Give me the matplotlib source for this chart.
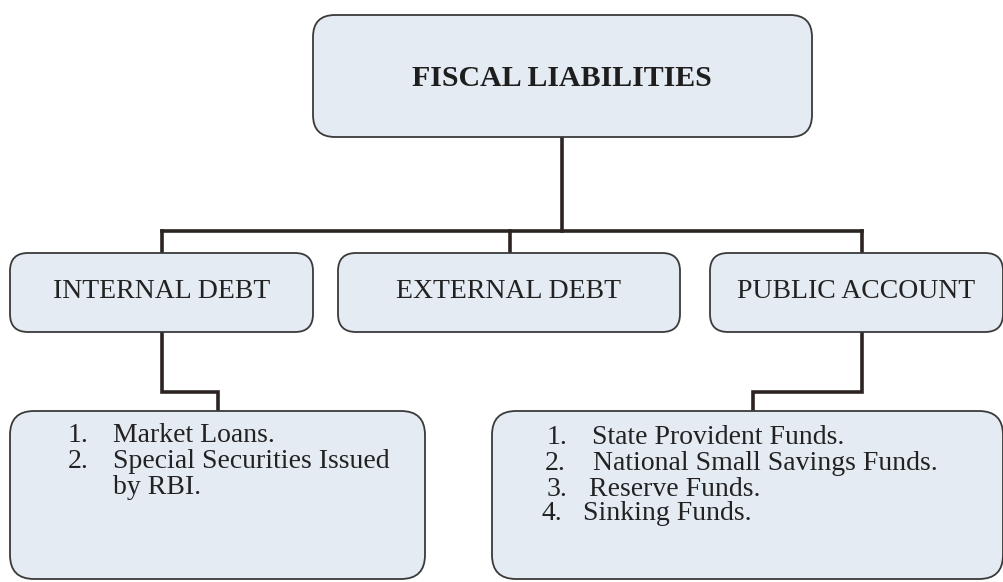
import matplotlib
matplotlib.use("Agg")
from matplotlib import pyplot as plt
from matplotlib.patches import FancyBboxPatch

plt.rcParams['font.family'] = ['Liberation Serif', 'DejaVu Serif']

# chart content
title = "FISCAL LIABILITIES"
branches = ["INTERNAL DEBT", "EXTERNAL DEBT", "PUBLIC ACCOUNT"]
internal_items = ["Market Loans.", "Special Securities Issued", "by RBI."]
internal_nums = ["1.", "2.", ""]
public_items = ["State Provident Funds.", "National Small Savings Funds.",
                "Reserve Funds.", "Sinking Funds."]
public_nums = ["1.", "2.", "3.", "4."]

W, H = 1004, 582
fill = '#e5ebf3'
edge = '#3a3a3a'
wire = '#2b2422'

fig = plt.figure(figsize=(W / 100, H / 100), dpi=100)
ax = fig.add_axes([0, 0, 1, 1])
ax.set_xlim(0, W)
ax.set_ylim(H, 0)
ax.axis('off')


def box(x0, y0, x1, y1, r=18):
    # image coords (y down); patch is drawn on an inverted axis
    p = FancyBboxPatch((x0, y0), x1 - x0, y1 - y0,
                       boxstyle="round,pad=0,rounding_size=%d" % r,
                       facecolor=fill, edgecolor=edge, lw=1.3, zorder=2)
    ax.add_patch(p)


def wire_line(xs, ys):
    ax.plot(xs, ys, color=wire, lw=2.6, solid_capstyle='projecting',
            solid_joinstyle='miter', zorder=1)


# top box
box(313, 15, 812, 137, r=22)
ax.text(562, 79, title, ha='center', va='center', fontsize=21.5,
        fontweight='bold', color='#1e1e1e', zorder=3)

# connectors from top
wire_line([562, 562], [137, 231])
wire_line([162, 862], [231, 231])
drops = [162, 510, 862]
for x in drops:
    wire_line([x, x], [231, 253])

# second row
row2 = [(10, 313), (338, 680), (710, 1003)]
for (x0, x1), lab in zip(row2, branches):
    box(x0, 253, x1, 332)
    ax.text((x0 + x1) / 2, 292, lab, ha='center', va='center',
            fontsize=20, color='#222222', zorder=3)

# lower connectors
wire_line([162, 162, 218, 218], [332, 392, 392, 412])
wire_line([862, 862, 753, 753], [332, 392, 392, 412])

# bottom boxes
box(10, 411, 425, 579, r=24)
box(492, 411, 1003, 579, r=24)

left_y = [435, 461, 487]
for n, t, y in zip(internal_nums, internal_items, left_y):
    ax.text(68, y, n, ha='left', va='center', fontsize=20, color='#222222', zorder=3)
    ax.text(113, y, t, ha='left', va='center', fontsize=20, color='#222222', zorder=3)

right_y = [437, 463, 489, 514]
num_x = [547, 545, 547, 542]
txt_x = [592, 593, 589, 583]
for n, t, y, nx, tx in zip(public_nums, public_items, right_y, num_x, txt_x):
    ax.text(nx, y, n, ha='left', va='center', fontsize=20, color='#222222', zorder=3)
    ax.text(tx, y, t, ha='left', va='center', fontsize=20, color='#222222', zorder=3)

fig.savefig('out.png', dpi=100, facecolor='white')
